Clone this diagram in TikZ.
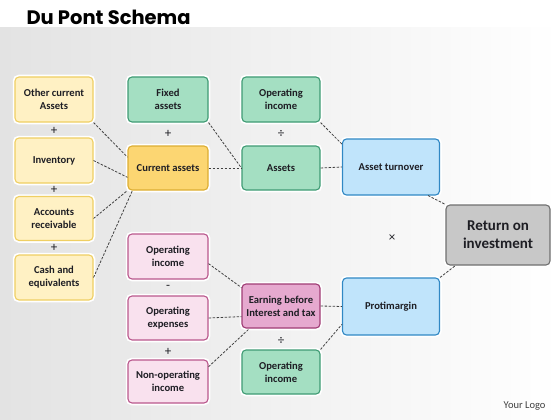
\documentclass[tikz,border=0pt]{standalone}
\usepackage{fontspec}
\setmainfont{Carlito}
\newfontfamily\titlefont{Poppins}
\definecolor{yfill}{HTML}{FFF1C4}
\definecolor{yline}{HTML}{EFCF63}
\definecolor{cafill}{HTML}{FCD672}
\definecolor{caline}{HTML}{DDAE33}
\definecolor{gfill}{HTML}{A4DFC2}
\definecolor{gline}{HTML}{3F9B74}
\definecolor{bfill}{HTML}{C0E4FB}
\definecolor{bline}{HTML}{3188C4}
\definecolor{rfill}{HTML}{C8C8C8}
\definecolor{rline}{HTML}{707070}
\definecolor{pfill}{HTML}{F9E1EE}
\definecolor{pline}{HTML}{BA588D}
\definecolor{efill}{HTML}{E6A9CF}
\definecolor{eline}{HTML}{A03C75}
\definecolor{txt}{HTML}{1E1E24}
\begin{document}
\begin{tikzpicture}[x=1pt,y=-1pt,
  box/.style={rounded corners=4pt, line width=1.1pt, align=center, inner sep=0pt,
    font=\bfseries\fontsize{10.6}{13}\selectfont, text=txt,
    preaction={draw=white, line width=4.5pt}},
  ybox/.style={box, fill=yfill, draw=yline, minimum width=78, minimum height=45},
  gbox/.style={box, fill=gfill, draw=gline, minimum width=78, minimum height=44},
  pbox/.style={box, fill=pfill, draw=pline, minimum width=80, minimum height=44},
  bbox/.style={box, fill=bfill, draw=bline, minimum width=97, minimum height=56},
  link/.style={draw=black!75, line width=0.8pt, dash pattern=on 2.5pt off 1.5pt},
  op/.style={font=\fontsize{13}{15}\selectfont, text=txt}]
\useasboundingbox (0,0) rectangle (560,420);
\fill[white] (0,0) rectangle (560,420);
\shade[left color=black!11, right color=white] (0,28) rectangle (560,420);
\node[anchor=west, font=\titlefont\bfseries\fontsize{19.5}{22}\selectfont] (title) at (23,17) {Du Pont Schema};
\node[anchor=east, font=\fontsize{10.5}{12}\selectfont, text=black!75] (logo) at (549,406) {Your Logo};
% left column
\node[ybox] (oca) at (54,99.5) {Other current\\Assets};
\node[ybox] (inv) at (54,160.5) {Inventory};
\node[ybox, minimum height=44] (ar) at (54,218.5) {Accounts\\receivable};
\node[ybox] (cash) at (54,277.5) {Cash and\\equivalents};
\node[op] (p1) at (54,131) {+};
\node[op] (p2) at (54,190) {+};
\node[op] (p3) at (54,248) {+};
% second column
\node[gbox, minimum width=80, minimum height=45] (fixed) at (168,99.5) {Fixed\\assets};
\node[box, fill=cafill, draw=caline, minimum width=80, minimum height=44] (ca) at (168,168) {Current assets};
\node[op] (p4) at (168,134) {+};
\node[pbox, minimum height=45] (oi) at (168,256.5) {Operating\\income};
\node[pbox] (oe) at (168,318) {Operating\\expenses};
\node[pbox, minimum height=43] (noi) at (168,381.5) {Non-operating\\income};
\node[op] (m1) at (168,287) {-};
\node[op] (p5) at (168,352) {+};
% third column
\node[gbox, minimum height=45] (oi1) at (281,99.5) {Operating\\income};
\node[gbox] (as) at (281,168) {Assets};
\node[op] (d1) at (281,134) {÷};
\node[box, fill=efill, draw=eline, minimum width=78, minimum height=44] (ebit) at (281,306) {Earning before\\Interest and tax};
\node[gbox] (oi2) at (281,372) {Operating\\income};
\node[op] (d2) at (281,341) {÷};
% fourth column
\node[bbox] (at) at (391,167) {Asset turnover};
\node[bbox, minimum height=57] (pm) at (391,306.5) {Protimargin};
\node[op] (x1) at (392,238) {×};
\node[box, fill=rfill, draw=rline, minimum width=104, minimum height=60,
  font=\bfseries\fontsize{15}{18}\selectfont] (roi) at (498,235) {Return on\\investment};
% connectors
\draw[link] (oca.south east) -- (ca.165);
\draw[link] (inv.east) -- (ca.193);
\draw[link] (ar.east) -- (ca.south west);
\draw[link] (cash.east) -- ([xshift=5pt]ca.south west);
\draw[link] (fixed.south east) -- (as.west);
\draw[link] (ca.east) -- (as.west);
\draw[link] (oi1.south east) -- (at.155);
\draw[link] (as.east) -- (at.west);
\draw[link] ([xshift=-12pt]at.south east) -- (roi.north west);
\draw[link] (pm.north east) -- ([xshift=10pt]roi.south west);
\draw[link] (oi.-10) -- (ebit.155);
\draw[link] (oe.east) -- (ebit.195);
\draw[link] (noi.20) -- ([xshift=8pt]ebit.south west);
\draw[link] (ebit.east) -- (pm.west);
\draw[link] (oi2.north east) -- (pm.200);
\end{tikzpicture}
\end{document}
